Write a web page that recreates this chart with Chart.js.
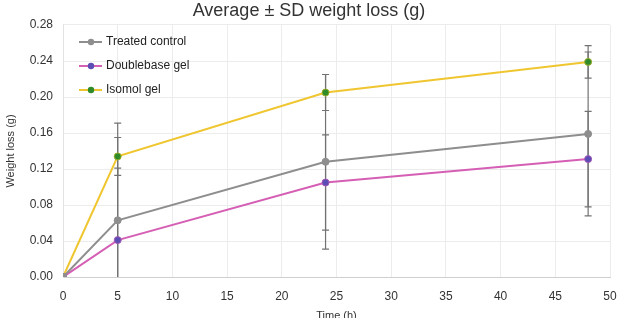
<!DOCTYPE html>
<html>
<head>
<meta charset="utf-8">
<title>Average weight loss</title>
<script src="https://cdn.jsdelivr.net/npm/chart.js@4.4.1/dist/chart.umd.min.js"></script>
<style>
  html, body { margin: 0; padding: 0; background: #fff; }
  #wrap { width: 618px; height: 318px; position: relative; }
</style>
</head>
<body>
<div id="wrap"><canvas id="weight-chart"></canvas></div>
<script>
// data
const timePoints = [0, 5, 24, 48];
const seriesNames = ['Treated control', 'Doublebase gel', 'Isomol gel'];
const treatedMean = [0, 0.063, 0.128, 0.159];
const treatedSD = [0, 0.108, 0.097, 0.091];
const doublebaseMean = [0, 0.041, 0.105, 0.131];
const doublebaseSD = [0, 0.080, 0.053, 0.053];
const isomolMean = [0, 0.134, 0.205, 0.239];
const isomolSD = [0, 0.021, 0.020, 0.018];
const xTicks = [0, 5, 10, 15, 20, 25, 30, 35, 40, 45, 50];
const yTicks = [0, 0.04, 0.08, 0.12, 0.16, 0.20, 0.24, 0.28];

const textColor = '#333';
const fontFamily = '"Liberation Sans", Arial, sans-serif';

function toPoints(means) {
    return timePoints.map((t, i) => ({ x: t, y: means[i] }));
}

// vertical error bars, drawn under the lines
const errorBars = {
    id: 'errorBars',
    beforeDatasetsDraw(chart) {
        const ctx = chart.ctx;
        const area = chart.chartArea;
        const xs = chart.scales.x;
        const ys = chart.scales.y;
        ctx.save();
        ctx.beginPath();
        ctx.rect(area.left, area.top, area.right - area.left, area.bottom - area.top);
        ctx.clip();
        ctx.strokeStyle = '#727272';
        ctx.lineWidth = 1.2;
        chart.data.datasets.forEach(ds => {
            ds.data.forEach((p, i) => {
                const sd = ds.sd[i];
                if (!sd) return;
                const x = xs.getPixelForValue(p.x);
                const top = ys.getPixelForValue(p.y + sd);
                const bottom = ys.getPixelForValue(p.y - sd);
                ctx.beginPath();
                ctx.moveTo(x, top);
                ctx.lineTo(x, bottom);
                ctx.moveTo(x - 3.5, top);
                ctx.lineTo(x + 3.5, top);
                ctx.moveTo(x - 3.5, bottom);
                ctx.lineTo(x + 3.5, bottom);
                ctx.stroke();
            });
        });
        ctx.restore();
    }
};

// legend inside the plot, top left
const insideLegend = {
    id: 'insideLegend',
    afterDraw(chart) {
        const ctx = chart.ctx;
        const area = chart.chartArea;
        ctx.save();
        chart.data.datasets.forEach((ds, i) => {
            const y = area.top + 17 + i * 24;
            const x0 = area.left + 16;
            ctx.strokeStyle = ds.borderColor;
            ctx.lineWidth = 2;
            ctx.beginPath();
            ctx.moveTo(x0, y);
            ctx.lineTo(x0 + 23, y);
            ctx.stroke();
            ctx.fillStyle = ds.pointBackgroundColor;
            ctx.beginPath();
            ctx.arc(x0 + 12, y, 3.2, 0, Math.PI * 2);
            ctx.fill();
            ctx.fillStyle = '#222';
            ctx.font = '12px ' + fontFamily;
            ctx.textBaseline = 'middle';
            ctx.textAlign = 'left';
            ctx.fillText(ds.label, x0 + 27, y);
        });
        ctx.restore();
    }
};

const ctx = document.getElementById('weight-chart').getContext('2d');
window.weightChart = new Chart(ctx, {
    type: 'line',
    data: {
        datasets: [{
            label: seriesNames[0],
            data: toPoints(treatedMean),
            sd: treatedSD,
            borderColor: '#8e8e8e',
            pointBackgroundColor: '#8e8e8e',
            pointBorderColor: '#8e8e8e'
        }, {
            label: seriesNames[1],
            data: toPoints(doublebaseMean),
            sd: doublebaseSD,
            borderColor: '#d55fb4',
            pointBackgroundColor: '#5b4db4',
            pointBorderColor: '#a25ab8'
        }, {
            label: seriesNames[2],
            data: toPoints(isomolMean),
            sd: isomolSD,
            borderColor: '#f0c630',
            pointBackgroundColor: '#2f8a2a',
            pointBorderColor: '#9aae2c'
        }]
    },
    options: {
        responsive: true,
        maintainAspectRatio: false,
        animation: false,
        elements: {
            line: { borderWidth: 2, tension: 0 },
            point: { radius: 3.5, borderWidth: 1, hoverRadius: 4 }
        },
        layout: { padding: { left: 0, right: 0, top: 0, bottom: 0 } },
        plugins: {
            legend: { display: false },
            tooltip: { enabled: false },
            title: {
                display: true,
                text: 'Average \u00b1 SD weight loss (g)',
                color: textColor,
                font: { family: fontFamily, size: 18, weight: 'normal' },
                padding: { top: 0, bottom: 3.4 }
            }
        },
        scales: {
            x: {
                type: 'linear',
                min: 0,
                max: 50,
                afterBuildTicks: scale => { scale.ticks = xTicks.map(v => ({ value: v })); },
                afterFit: scale => { scale.height = 41; scale.paddingRight = 8; },
                ticks: {
                    color: textColor,
                    font: { family: fontFamily, size: 12 },
                    padding: 12,
                    maxRotation: 0
                },
                grid: { color: '#ececec', drawTicks: false },
                border: { color: '#cfcfcf' },
                title: {
                    display: true,
                    text: 'Time (h)',
                    color: textColor,
                    font: { family: fontFamily, size: 11 },
                    padding: { top: 0, bottom: -5 }
                }
            },
            y: {
                min: 0,
                max: 0.28,
                afterBuildTicks: scale => { scale.ticks = yTicks.map(v => ({ value: v })); },
                afterFit: scale => { scale.width = 63; },
                ticks: {
                    color: textColor,
                    font: { family: fontFamily, size: 12 },
                    padding: 10,
                    callback: v => v.toFixed(2)
                },
                grid: { color: '#ececec', drawTicks: false },
                border: { color: '#e2e2e2' },
                title: {
                    display: true,
                    text: 'Weight loss (g)',
                    color: textColor,
                    font: { family: fontFamily, size: 11 },
                    padding: { top: 4, bottom: 0 }
                }
            }
        }
    },
    plugins: [errorBars, insideLegend]
});
</script>
</body>
</html>
